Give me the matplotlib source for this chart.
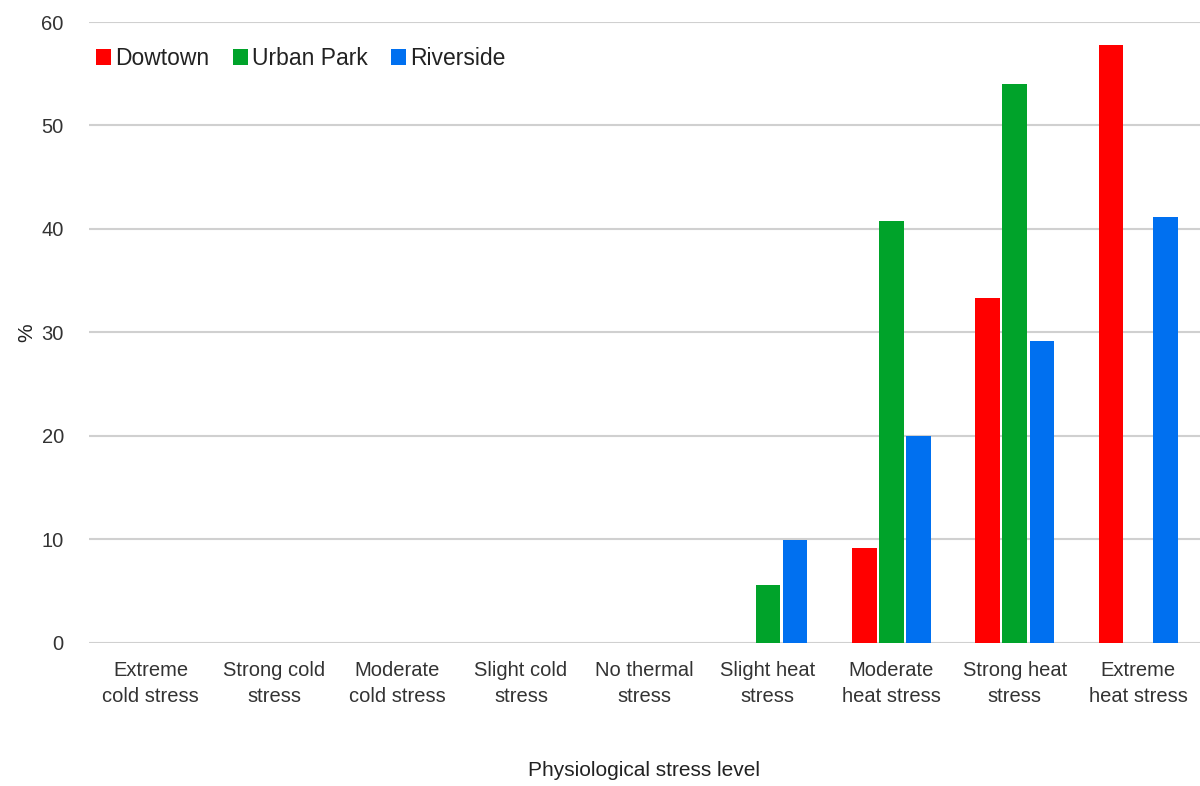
import numpy as np
import matplotlib.pyplot as plt

plt.rcParams['font.family'] = ['Liberation Sans', 'DejaVu Sans']

categories = ["Extreme\ncold stress", "Strong cold\nstress", "Moderate\ncold stress",
              "Slight cold\nstress", "No thermal\nstress", "Slight heat\nstress",
              "Moderate\nheat stress", "Strong heat\nstress", "Extreme\nheat stress"]
downtown = [0, 0, 0, 0, 0, 0, 9.2, 33.3, 57.8]
urban_park = [0, 0, 0, 0, 0, 5.6, 40.8, 54.0, 0]
riverside = [0, 0, 0, 0, 0, 9.9, 20.0, 29.2, 41.2]

series = [("Dowtown", downtown, "#ff0000"),
          ("Urban Park", urban_park, "#00a32a"),
          ("Riverside", riverside, "#0070f0")]

fig = plt.figure(figsize=(12, 7.86), dpi=100)
ax = fig.add_axes([0.074, 0.182, 0.926, 0.79])

x = np.arange(len(categories))
w = 0.2
step = 0.22
for i, (name, vals, col) in enumerate(series):
    ax.bar(x + (i - 1) * step, vals, w, color=col, label=name, zorder=3)

ax.set_xlim(-0.5, len(categories) - 0.5)
ax.set_ylim(0, 60)
ax.set_yticks(range(0, 61, 10))
ax.set_xticks(x)
ax.set_xticklabels(categories, linespacing=1.45)
ax.grid(axis='y', color='#d0d0d0', linewidth=1.5, zorder=0)
ax.set_axisbelow(True)
for s in ax.spines.values():
    s.set_visible(False)
ax.tick_params(axis='both', length=0, labelsize=14.5, labelcolor='#333333')
ax.tick_params(axis='y', pad=18)
ax.tick_params(axis='x', pad=13)

ax.set_xlabel("Physiological stress level", fontsize=15, color='#222222', labelpad=40)
ax.set_ylabel("%", fontsize=15, color='#222222', labelpad=4)

ax.legend(loc='upper left', bbox_to_anchor=(-0.012, 0.993), ncol=3, frameon=False,
          fontsize=16.5, handlelength=0.65, handleheight=0.65, handletextpad=0.2,
          columnspacing=1.0, labelcolor='#222222')

fig.savefig("out.png", dpi=100)
